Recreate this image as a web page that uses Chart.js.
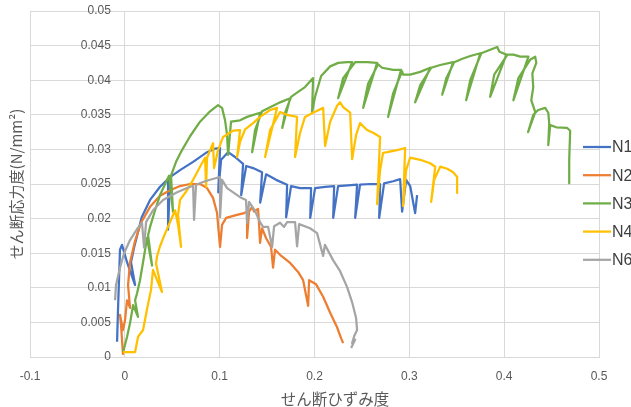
<!DOCTYPE html>
<html>
<head>
<meta charset="utf-8">
<script src="https://cdn.jsdelivr.net/npm/chart.js@4.4.0/dist/chart.umd.min.js"></script>
<style>
  body { margin: 0; background: #fff; }
  canvas { display: block; }
</style>
</head>
<body>
<canvas id="shearChart" width="631" height="407"></canvas>
<script>
// せん断ひずみ度 (x) / せん断応力度 (y)
const seriesNames = ['N1', 'N2', 'N3', 'N4', 'N6'];

const n1Points = [
  [-0.0082, 0.0022], [-0.0072, 0.0068], [-0.0051, 0.0155], [-0.003, 0.0162], [0.0023, 0.0137],
  [0.0108, 0.0104], [0.0065, 0.0137], [0.0097, 0.0158], [0.0178, 0.0202], [0.0266, 0.0227],
  [0.0371, 0.0246], [0.0456, 0.0257], [0.0456, 0.0184], [0.0477, 0.026], [0.0582, 0.027],
  [0.072, 0.0282], [0.0867, 0.0296], [0.0951, 0.0301], [0.1004, 0.0302], [0.0985, 0.0238],
  [0.1015, 0.0285], [0.1089, 0.0296], [0.1162, 0.0289], [0.1247, 0.0279], [0.1227, 0.0234],
  [0.128, 0.0276], [0.1352, 0.0273], [0.1447, 0.0267], [0.1427, 0.0223], [0.149, 0.0264],
  [0.1595, 0.0256], [0.1711, 0.0249], [0.1701, 0.0202], [0.1753, 0.0247], [0.1848, 0.0244],
  [0.1964, 0.0244], [0.1955, 0.0201], [0.2006, 0.0244], [0.2112, 0.0246], [0.2207, 0.0247],
  [0.2197, 0.0201], [0.2249, 0.0247], [0.2354, 0.0248], [0.2449, 0.0249], [0.2429, 0.0201],
  [0.248, 0.0249], [0.2587, 0.025], [0.2692, 0.025], [0.2682, 0.0201], [0.2734, 0.0251],
  [0.2829, 0.0254], [0.2903, 0.0257], [0.2924, 0.021], [0.2966, 0.0256], [0.3009, 0.0247],
  [0.3061, 0.0208], [0.3082, 0.0234]
];

const n2Points = [
  [-0.0019, 0.0003], [-0.004, 0.0046], [-0.0051, 0.0061], [-0.0019, 0.0039], [0.0002, 0.0053],
  [0.0023, 0.0082], [0.0055, 0.0071], [0.0034, 0.0104], [0.0055, 0.0137], [0.0108, 0.0168],
  [0.0171, 0.0194], [0.0266, 0.0217], [0.0371, 0.0233], [0.0477, 0.0241], [0.0582, 0.0247],
  [0.0688, 0.025], [0.0793, 0.025], [0.0867, 0.0244], [0.093, 0.023], [0.0973, 0.0208],
  [0.0983, 0.0191], [0.1004, 0.0159], [0.1025, 0.0191], [0.1068, 0.0201], [0.1173, 0.0205],
  [0.1257, 0.0208], [0.1289, 0.021], [0.1289, 0.0172], [0.131, 0.021], [0.1342, 0.0217],
  [0.1363, 0.021], [0.1405, 0.0214], [0.1416, 0.0191], [0.1426, 0.0165], [0.1447, 0.0186],
  [0.1489, 0.0172], [0.1542, 0.0159], [0.1563, 0.0129], [0.1584, 0.0155], [0.165, 0.0146],
  [0.1743, 0.0136], [0.1827, 0.0123], [0.188, 0.0111], [0.1933, 0.0074], [0.1943, 0.0111],
  [0.2017, 0.0105], [0.2091, 0.0087], [0.2165, 0.0064], [0.2238, 0.0043], [0.2281, 0.0027],
  [0.2302, 0.002]
];

const n3Points = [
  [-0.0019, 0.0007], [0.0023, 0.0029], [0.0055, 0.0049], [0.0087, 0.0075], [0.0139, 0.0058],
  [0.0108, 0.0082], [0.0129, 0.0092], [0.016, 0.0111], [0.0192, 0.0137], [0.0234, 0.0172],
  [0.0287, 0.0132], [0.0245, 0.0176], [0.0266, 0.0188], [0.0319, 0.0212], [0.0371, 0.0234],
  [0.0435, 0.0253], [0.0466, 0.0262], [0.0508, 0.021], [0.0487, 0.0262], [0.054, 0.0282],
  [0.0603, 0.0299], [0.0688, 0.0319], [0.0793, 0.034], [0.0899, 0.0355], [0.0983, 0.0364],
  [0.1025, 0.036], [0.1057, 0.0342], [0.1078, 0.0321], [0.1089, 0.0292], [0.112, 0.034],
  [0.1215, 0.0342], [0.1289, 0.0347], [0.1426, 0.0353], [0.1342, 0.0296], [0.1373, 0.0328],
  [0.1447, 0.0355], [0.1532, 0.0361], [0.1637, 0.0368], [0.1743, 0.0374], [0.166, 0.0331],
  [0.1692, 0.0354], [0.1753, 0.0376], [0.1816, 0.0382], [0.19, 0.039], [0.1985, 0.0403],
  [0.1975, 0.0354], [0.2006, 0.0376], [0.207, 0.0406], [0.2165, 0.042], [0.225, 0.0425],
  [0.2344, 0.0426], [0.2397, 0.0426], [0.2249, 0.0374], [0.2302, 0.0403], [0.2428, 0.0426],
  [0.2554, 0.0426], [0.266, 0.0425], [0.2513, 0.036], [0.2565, 0.0395], [0.2671, 0.0423],
  [0.2713, 0.0418], [0.2829, 0.0415], [0.2913, 0.0415], [0.2776, 0.0347], [0.2829, 0.0381],
  [0.2924, 0.0413], [0.2934, 0.0408], [0.3009, 0.0408], [0.3115, 0.0412], [0.322, 0.0418],
  [0.3061, 0.0368], [0.3115, 0.0393], [0.3231, 0.0418], [0.3325, 0.0422], [0.3462, 0.0426],
  [0.3346, 0.0379], [0.339, 0.0403], [0.3473, 0.0426], [0.356, 0.0431], [0.3642, 0.0435],
  [0.3748, 0.0439], [0.3599, 0.0371], [0.3642, 0.04], [0.3759, 0.0439], [0.3832, 0.0443],
  [0.3927, 0.0448], [0.395, 0.0441], [0.4024, 0.0437], [0.3852, 0.0376], [0.3895, 0.0408],
  [0.4035, 0.0437], [0.4097, 0.0437], [0.417, 0.0434], [0.4256, 0.0434], [0.4097, 0.0371],
  [0.415, 0.0403], [0.4277, 0.043], [0.4327, 0.0434], [0.4339, 0.0425], [0.4297, 0.041],
  [0.4307, 0.039], [0.4286, 0.0371], [0.4328, 0.0354], [0.4252, 0.0325], [0.4307, 0.035],
  [0.4359, 0.0357], [0.4433, 0.036], [0.4465, 0.0353], [0.4475, 0.0338], [0.4465, 0.0306],
  [0.4486, 0.0335], [0.455, 0.0332], [0.4665, 0.0331], [0.4696, 0.0327], [0.4686, 0.0285],
  [0.4686, 0.0251]
];

const n4Points = [
  [-0.0019, 0.0007], [0.0108, 0.0007], [0.0139, 0.0029], [0.0192, 0.0039], [0.0234, 0.0069],
  [0.0276, 0.0097], [0.0297, 0.0126], [0.034, 0.0111], [0.0392, 0.0094], [0.0329, 0.0135],
  [0.034, 0.0146], [0.0371, 0.016], [0.0414, 0.0175], [0.0477, 0.0195], [0.053, 0.0212],
  [0.0561, 0.0191], [0.0593, 0.0159], [0.0561, 0.0205], [0.0582, 0.0227], [0.0656, 0.0241],
  [0.072, 0.0256], [0.0793, 0.0275], [0.0846, 0.0288], [0.0857, 0.0246], [0.0867, 0.0288],
  [0.093, 0.0309], [0.0941, 0.0273], [0.0983, 0.0299], [0.1036, 0.0318], [0.1141, 0.0327],
  [0.1215, 0.0328], [0.1184, 0.0289], [0.1215, 0.0311], [0.1268, 0.0329], [0.1352, 0.0338],
  [0.1426, 0.0347], [0.1532, 0.0357], [0.1605, 0.036], [0.1479, 0.0289], [0.1532, 0.0328],
  [0.1637, 0.0354], [0.1711, 0.035], [0.1816, 0.0347], [0.1795, 0.0289], [0.1848, 0.0324],
  [0.19, 0.0347], [0.1985, 0.0353], [0.2091, 0.036], [0.2112, 0.0305], [0.2165, 0.034],
  [0.2238, 0.0363], [0.227, 0.0368], [0.2302, 0.0361], [0.2376, 0.0353], [0.2397, 0.0286],
  [0.2439, 0.0321], [0.248, 0.0338], [0.2554, 0.0328], [0.2618, 0.0324], [0.2692, 0.0318],
  [0.266, 0.0221], [0.2692, 0.027], [0.2723, 0.0295], [0.2766, 0.0296], [0.2871, 0.0299],
  [0.2956, 0.0302], [0.2934, 0.0218], [0.2966, 0.027], [0.3009, 0.0288], [0.3115, 0.0285],
  [0.322, 0.028], [0.3273, 0.0275], [0.323, 0.0224], [0.3262, 0.0256], [0.3325, 0.0275],
  [0.34, 0.0272], [0.3462, 0.0267], [0.3504, 0.026], [0.3504, 0.0237]
];

const n6Points = [
  [-0.0103, 0.0082], [-0.0093, 0.0104], [-0.0051, 0.0129], [-0.0008, 0.015], [0.0055, 0.0169],
  [0.0129, 0.0185], [0.0181, 0.0194], [0.0203, 0.0158], [0.0224, 0.0195], [0.0297, 0.0212],
  [0.0403, 0.0227], [0.0551, 0.0238], [0.0688, 0.0246], [0.072, 0.0247], [0.073, 0.0198],
  [0.0751, 0.0249], [0.0846, 0.0254], [0.0973, 0.0259], [0.1004, 0.026], [0.1004, 0.0202],
  [0.1025, 0.0256], [0.1078, 0.0244], [0.1215, 0.0231], [0.1278, 0.0227], [0.1289, 0.0194],
  [0.131, 0.0224], [0.1373, 0.0211], [0.1426, 0.0195], [0.1458, 0.0188], [0.1511, 0.0188],
  [0.1553, 0.0159], [0.1574, 0.0189], [0.1637, 0.0194], [0.1679, 0.0188], [0.1711, 0.0195],
  [0.1795, 0.0195], [0.1816, 0.016], [0.1838, 0.0192], [0.1953, 0.0186], [0.2027, 0.0179],
  [0.2091, 0.0146], [0.211, 0.0162], [0.2196, 0.014], [0.227, 0.0124], [0.2344, 0.0101],
  [0.2397, 0.0079], [0.2439, 0.0056], [0.2449, 0.0039], [0.2418, 0.003], [0.2397, 0.002],
  [0.2428, 0.0025], [0.2386, 0.0013]
];

const xTickLabels = ['-0.1', '0', '0.1', '0.2', '0.3', '0.4', '0.5'];
const yTickLabels = ['0', '0.005', '0.01', '0.015', '0.02', '0.025', '0.03', '0.035', '0.04', '0.045', '0.05'];
const xTitle = 'せん断ひずみ度';
const yTitle = 'せん断応力度(N/mm²)';

const colors = ['#4472C4', '#ED7D31', '#70AD47', '#FFC000', '#A5A5A5'];
const allPoints = [n1Points, n2Points, n3Points, n4Points, n6Points];

function toXY(points) {
  return points.map(p => ({ x: p[0], y: p[1] }));
}

// y labels hang off the x=0 axis, titles and legend sit where Excel put them
const overlay = {
  id: 'overlay',
  afterDraw(chart) {
    const ctx = chart.ctx;
    const xs = chart.scales.x;
    const ys = chart.scales.y;
    ctx.save();

    ctx.fillStyle = '#595959';
    ctx.font = '12px "Liberation Sans"';
    ctx.textAlign = 'right';
    ctx.textBaseline = 'middle';
    const axisX = xs.getPixelForValue(0);
    ys.ticks.forEach((t, i) => {
      ctx.fillText(yTickLabels[i], axisX - 14, ys.getPixelForValue(t.value));
    });

    ctx.font = '15.5px "Noto Sans CJK JP"';
    ctx.textAlign = 'center';
    ctx.fillText(xTitle, 335, 399);
    ctx.save();
    ctx.translate(16, 184);
    ctx.rotate(-Math.PI / 2);
    ctx.font = '15px "Noto Sans CJK JP"';
    ctx.fillText(yTitle, 0, 0);
    ctx.restore();

    ctx.font = '16px "Liberation Sans"';
    ctx.textAlign = 'left';
    chart.data.datasets.forEach((ds, i) => {
      const y = 147 + i * 28.2;
      ctx.strokeStyle = ds.borderColor;
      ctx.lineWidth = 2.25;
      ctx.beginPath();
      ctx.moveTo(583, y);
      ctx.lineTo(611, y);
      ctx.stroke();
      ctx.fillStyle = '#404040';
      ctx.fillText(ds.label, 612, y + 1);
    });
    ctx.restore();
  }
};

const ctx = document.getElementById('shearChart').getContext('2d');
new Chart(ctx, {
  type: 'scatter',
  data: {
    datasets: seriesNames.map((name, i) => ({
      label: name,
      data: toXY(allPoints[i]),
      showLine: true,
      borderColor: colors[i],
      backgroundColor: colors[i],
      borderWidth: 2.25,
      borderJoinStyle: 'round',
      pointRadius: 0,
      tension: 0,
      order: seriesNames.length - i
    }))
  },
  options: {
    responsive: false,
    animation: false,
    layout: { padding: { left: 30, right: 32, top: 11, bottom: 50 } },
    plugins: {
      legend: { display: false },
      tooltip: { enabled: false }
    },
    scales: {
      x: {
        type: 'linear',
        position: { y: 0 },
        min: -0.1,
        max: 0.5,
        ticks: {
          stepSize: 0.1,
          padding: 12,
          color: '#595959',
          font: { size: 12, family: 'Liberation Sans' },
          callback: (v, i) => xTickLabels[i]
        },
        grid: { color: '#d9d9d9', drawTicks: false },
        border: { color: '#d9d9d9' }
      },
      y: {
        type: 'linear',
        position: { x: 0 },
        min: 0,
        max: 0.05,
        ticks: {
          stepSize: 0.005,
          display: false
        },
        grid: { color: '#d9d9d9', drawTicks: false },
        border: { color: '#d9d9d9' }
      }
    }
  },
  plugins: [overlay]
});
</script>
</body>
</html>
